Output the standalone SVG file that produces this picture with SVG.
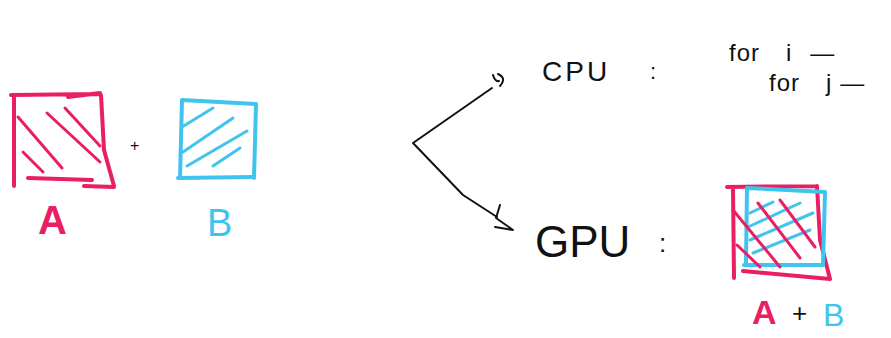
<svg xmlns="http://www.w3.org/2000/svg" width="891" height="338" viewBox="0 0 891 338">
<style>
.pk{fill:none;stroke:#e91e63;stroke-width:4;stroke-linecap:round;stroke-linejoin:round}
.bl{fill:none;stroke:#40c4ee;stroke-width:4;stroke-linecap:round;stroke-linejoin:round}
.pkh{fill:none;stroke:#e91e63;stroke-width:3;stroke-linecap:round}
.blh{fill:none;stroke:#40c4ee;stroke-width:3;stroke-linecap:round}
.ink{fill:none;stroke:#111;stroke-width:2;stroke-linecap:round;stroke-linejoin:round}
.t{font-family:"Liberation Sans",Arial,sans-serif;fill:#111}
.tp{font-family:"Liberation Sans",Arial,sans-serif;fill:#e91e63;font-weight:bold}
.tb{font-family:"Liberation Sans",Arial,sans-serif;fill:#40c4ee}
</style>
<rect width="891" height="338" fill="#ffffff"/>
<g id="matrixA">
<path class="pk" d="M11,95 L100,94 M68,97 L100,93 M14,96 L14,186 M101,95 L104,150 L114,186 M84,186 L114,187 M28,178 L92,180"/>
<path class="pkh" d="M18,117 L62,168 M47,113 L100,162 M65,108 L100,146 M23,152 L43,172"/>
<text class="tp" x="38" y="234" font-size="40">A</text>
</g>
<text class="t" x="130" y="151" font-size="16">+</text>
<g id="matrixB">
<path class="bl" d="M182,100 L256,104 M182,100 L180,178 M256,104 L254,178 M178,178 L252,177"/>
<path class="blh" d="M182,127 L213,108 M183,152 L233,118 M187,166 L247,131 M213,166 L240,148"/>
<text class="tb" x="207" y="236" font-size="38">B</text>
</g>
<g id="connectors">
<path class="ink" d="M413,143 L492,88 M413,143 L463,195 L497,217"/>
<path class="ink" d="M493,75 Q495,82 499,81 M498,74 Q507,78 500,86"/>
<path class="ink" d="M500,205 L496,218 L513,230 L495,227"/>
</g>
<g id="cpu">
<text class="t" x="542" y="81" font-size="28" letter-spacing="3">CPU</text>
<text class="t" x="650" y="79" font-size="22">:</text>
<text class="t" x="729" y="61" font-size="24" letter-spacing="1">for<tspan dx="26">i</tspan><tspan dx="18">—</tspan></text>
<text class="t" x="769" y="91" font-size="24" letter-spacing="1">for<tspan dx="26">j</tspan><tspan dx="8">—</tspan></text>
</g>
<g id="gpu">
<text class="t" x="535" y="257" font-size="44">GPU</text>
<text class="t" x="659" y="252" font-size="26">:</text>
<path class="pk" d="M727,187 L817,186 M733,188 L734,278 M817,186 L820,240 L830,279 M743,271 L830,279"/>
<path class="bl" d="M747,188 L825,192 M747,188 L746,264 M825,192 L823,265 M744,265 L823,265"/>
<path class="blh" d="M750,213 L773,202 M748,227 L800,203 M750,240 L813,213 M753,253 L810,230"/>
<path class="pkh" d="M733,210 L780,267 M758,203 L800,258 M780,200 L815,247 M737,245 L760,267"/>
<text class="tp" x="752" y="324" font-size="34">A</text>
<text class="t" x="792" y="322" font-size="26">+</text>
<text class="tb" x="823" y="326" font-size="32">B</text>
</g>
</svg>
